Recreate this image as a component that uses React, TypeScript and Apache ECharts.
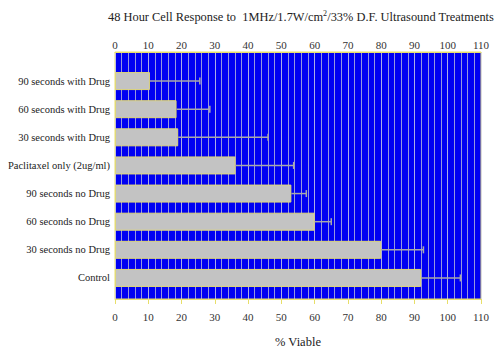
import React, { useEffect, useRef } from "react";
import * as echarts from "echarts";

const categories = [
  "90 seconds with Drug",
  "60 seconds with Drug",
  "30 seconds with Drug",
  "Paclitaxel only (2ug/ml)",
  "90 seconds no Drug",
  "60 seconds no Drug",
  "30 seconds no Drug",
  "Control",
];
const viable = [10.5, 18.5, 19, 36.2, 53, 60, 80, 92];
const errors = [15, 10, 27, 17.5, 4.5, 5, 12.7, 11.8];
const xTicks = { min: 0, max: 110, interval: 10 };

const FONT = "'Liberation Serif', 'DejaVu Serif', serif";

export default function App() {
  const ref = useRef<HTMLDivElement>(null);
  useEffect(() => {
    if (!ref.current) return;
    const chart = echarts.init(ref.current, null, { renderer: "svg" });
    const errData = viable.map((v, i) => [v, i, v + errors[i]]);
    chart.setOption({
      animation: false,
      backgroundColor: "#ffffff",
      title: {
        text: "48 Hour Cell Response to  1MHz/1.7W/cm{sup|2}/33% D.F. Ultrasound Treatments",
        left: 296,
        top: 4,
        textAlign: "center",
        textStyle: {
          fontFamily: FONT,
          fontSize: 12.4,
          fontWeight: "normal",
          color: "#222",
          rich: {
            sup: { fontFamily: FONT, fontSize: 8, color: "#222", padding: [0, 0, 7, 0] },
          },
        },
      },
      grid: [
        {
          left: 115,
          right: 19,
          top: 52,
          bottom: 48,
          show: true,
          backgroundColor: "#0000f2",
          borderColor: "#e8df6a",
          borderWidth: 1,
        },
        { left: 115, right: 19, top: 67, bottom: 61 },
      ],
      xAxis: [
        {
          gridIndex: 0,
          type: "value",
          position: "bottom",
          ...xTicks,
          name: "% Viable",
          nameLocation: "middle",
          nameGap: 36,
          nameTextStyle: { fontFamily: FONT, fontSize: 12.5, color: "#222" },
          axisLine: { show: true, lineStyle: { color: "#e8df6a" } },
          axisTick: { show: true, length: 5, lineStyle: { color: "#e8df6a" } },
          axisLabel: { fontFamily: FONT, fontSize: 11, color: "#333", margin: 12 },
          splitLine: { show: true, lineStyle: { color: "rgba(215,215,225,0.8)", width: 1 } },
          minorTick: { show: false, splitNumber: 5 },
          minorSplitLine: { show: true, lineStyle: { color: "rgba(200,200,215,0.75)", width: 1 } },
        },
        {
          gridIndex: 0,
          type: "value",
          position: "top",
          ...xTicks,
          axisLine: { show: true, lineStyle: { color: "#e8df6a" } },
          axisTick: { show: false },
          axisLabel: { fontFamily: FONT, fontSize: 11, color: "#333", margin: 2 },
          splitLine: { show: false },
        },
        {
          gridIndex: 1,
          type: "value",
          ...xTicks,
          show: false,
        },
      ],
      yAxis: [
        {
          gridIndex: 0,
          type: "value",
          min: 0,
          max: 1,
          show: false,
        },
        {
          gridIndex: 1,
          type: "category",
          data: categories,
          inverse: true,
          axisLine: { show: false },
          axisTick: { show: false },
          axisLabel: { fontFamily: FONT, fontSize: 10.5, color: "#222", margin: 5 },
        },
      ],
      series: [
        {
          type: "bar",
          xAxisIndex: 2,
          yAxisIndex: 1,
          data: viable,
          barWidth: 18,
          itemStyle: { color: "#c3c3c3", borderColor: "#e0d878", borderWidth: 1 },
          z: 3,
        },
        {
          type: "custom",
          xAxisIndex: 2,
          yAxisIndex: 1,
          data: errData,
          z: 4,
          renderItem: (params: any, api: any) => {
            const start = api.coord([api.value(0), api.value(1)]);
            const end = api.coord([api.value(2), api.value(1)]);
            const style = { stroke: "#a9a9a9", lineWidth: 1.5 };
            return {
              type: "group",
              children: [
                { type: "line", shape: { x1: start[0], y1: start[1], x2: end[0], y2: end[1] }, style },
                { type: "line", shape: { x1: end[0], y1: end[1] - 3.5, x2: end[0], y2: end[1] + 3.5 }, style },
              ],
            };
          },
        },
      ],
    });
    return () => chart.dispose();
  }, []);
  return (
    <div style={{ position: "fixed", left: 0, top: 0 }}>
      <div ref={ref} style={{ width: 500, height: 353 }} />
    </div>
  );
}
